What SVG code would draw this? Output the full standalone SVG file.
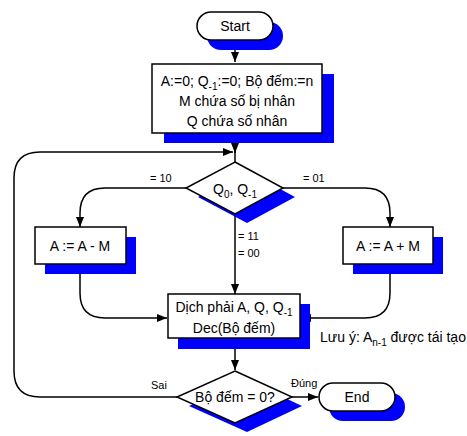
<svg xmlns="http://www.w3.org/2000/svg" width="467" height="436" viewBox="0 0 467 436">
<style>
.sh{fill:#0000ff;stroke:none}
.nd{fill:#fff;stroke:#000;stroke-width:1.5}
.t{font-family:"Liberation Sans",Arial,sans-serif;font-size:14px;fill:#000;text-anchor:middle}
.s{font-family:"Liberation Sans",Arial,sans-serif;font-size:11px;fill:#000}
.c{fill:none;stroke:#000;stroke-width:1.5}
</style>
<defs>
<marker id="ah" viewBox="0 0 10 10" refX="10" refY="5" markerWidth="10" markerHeight="10" markerUnits="userSpaceOnUse" orient="auto">
<path d="M0,1 L10,5 L0,9 Z" fill="#000"/>
</marker>
</defs>
<rect width="467" height="436" fill="#fff"/>
<g id="connectors">
<path class="c" d="M235,40 V62" marker-end="url(#ah)"/>
<path class="c" d="M235,133 V162"/>
<path class="c" d="M235,140 V153" marker-end="url(#ah)"/>
<path class="c" d="M177,397 H40 Q14,397 14,371 V178 Q14,152 40,152 H233" marker-end="url(#ah)"/>
<path class="c" d="M186,188 H105 Q80,188 80,213 V227" marker-end="url(#ah)"/>
<path class="c" d="M283,188 H365 Q390,188 390,213 V227" marker-end="url(#ah)"/>
<path class="c" d="M235,214 V294" marker-end="url(#ah)"/>
<path class="c" d="M80,264 V293 Q80,318 105,318 H167" marker-end="url(#ah)"/>
<path class="c" d="M390,264 V293 Q390,318 365,318 H301" marker-end="url(#ah)"/>
<path class="c" d="M235,338 V370" marker-end="url(#ah)"/>
<path class="c" d="M292,397 H318" marker-end="url(#ah)"/>
<text class="s" x="150" y="182">= 10</text>
<text class="s" x="303" y="182">= 01</text>
<text class="s" x="238" y="240">= 11</text>
<text class="s" x="238" y="257">= 00</text>
<text class="s" x="151" y="389">Sai</text>
<text class="s" x="291" y="387">Đúng</text>
</g>
<g id="start">
<rect class="sh" x="207" y="22" width="76" height="28" rx="14"/>
<rect class="nd" x="197" y="12" width="76" height="28" rx="14"/>
<text class="t" x="235" y="31">Start</text>
</g>
<g id="init">
<rect class="sh" x="164" y="74" width="170" height="69"/>
<rect class="nd" x="152" y="64" width="170" height="69"/>
<text class="t" x="237" y="86">A:=0; Q<tspan font-size="10" dy="4">-1</tspan><tspan dy="-4">:=0; Bộ đếm:=n</tspan></text>
<text class="t" x="237" y="106">M chứa số bị nhân</text>
<text class="t" x="237" y="126">Q chứa số nhân</text>
</g>
<g id="check">
<polygon class="sh" points="247,171 295,197 247,223 198,197"/>
<polygon class="nd" points="235,162 283,188 235,214 186,188"/>
<text class="t" x="235" y="194">Q<tspan font-size="10" dy="4">0</tspan><tspan dy="-4">, Q</tspan><tspan font-size="10" dy="4">-1</tspan></text>
</g>
<g id="sub">
<rect class="sh" x="45" y="237" width="91" height="37"/>
<rect class="nd" x="35" y="227" width="91" height="37"/>
<text class="t" x="80" y="251">A := A - M</text>
</g>
<g id="add">
<rect class="sh" x="353" y="237" width="90" height="37"/>
<rect class="nd" x="343" y="227" width="90" height="37"/>
<text class="t" x="388" y="251">A := A + M</text>
</g>
<g id="shift">
<rect class="sh" x="178" y="304" width="132" height="45"/>
<rect class="nd" x="168" y="294" width="132" height="44"/>
<text class="t" x="234" y="312">Dịch phải A, Q, Q<tspan font-size="10" dy="4">-1</tspan></text>
<text class="t" x="234" y="333">Dec(Bộ đếm)</text>
</g>
<g id="note">
<text class="t" x="393" y="342">Lưu ý: A<tspan font-size="10" dy="4">n-1</tspan><tspan dy="-4"> được tái tạo</tspan></text>
</g>
<g id="count">
<polygon class="sh" points="247,380 302,406 247,432 189,406"/>
<polygon class="nd" points="235,371 292,397 235,423 177,397"/>
<text class="t" x="235" y="402">Bộ đếm = 0?</text>
</g>
<g id="end">
<rect class="sh" x="329" y="393" width="76" height="28" rx="14"/>
<rect class="nd" x="319" y="383" width="76" height="28" rx="14"/>
<text class="t" x="357" y="402">End</text>
</g>
</svg>
